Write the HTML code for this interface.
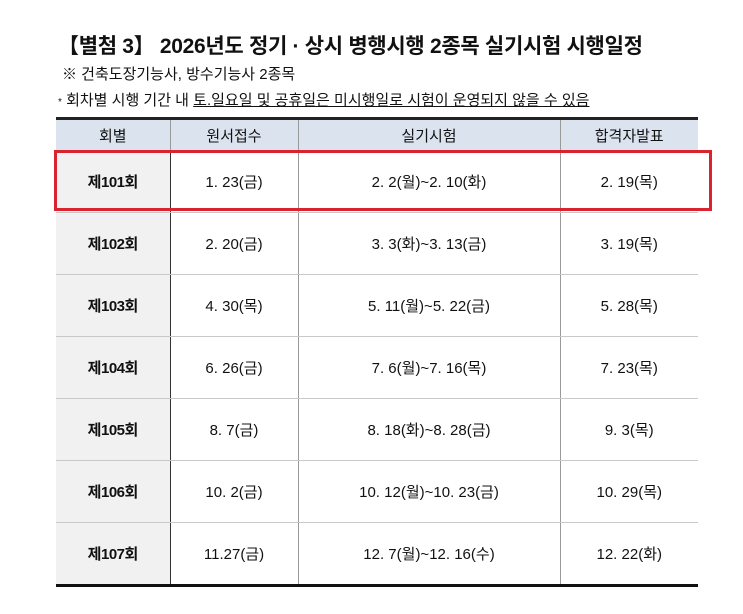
<!DOCTYPE html>
<html><head><meta charset="utf-8"><style>
body{margin:0;width:743px;height:614px;background:#fff;font-family:"Liberation Sans","Noto Sans CJK KR",sans-serif;color:#111;position:relative;overflow:hidden}
.t{position:absolute;white-space:nowrap}
table{position:absolute;left:56px;top:117px;width:642px;border-collapse:collapse;table-layout:fixed}
td,th{text-align:center;font-size:15px;font-weight:normal;border-bottom:1px solid #c8c8c8;border-left:1px solid #9a9a9a;padding:0}
th{background:#dbe3ef;height:30px;font-size:15px;border-bottom:1px solid #999}
td{height:61px}
tr td:first-child,tr th:first-child{border-left:none}
td:first-child{background:#f1f1f1;border-right:1px solid #333;font-weight:bold;letter-spacing:-0.5px}
table{border-top:3px solid #222;border-bottom:3px solid #111}
.red{position:absolute;left:54px;top:150px;width:652px;height:55px;border:3px solid #d9232e}
</style></head><body>
<div class="t" style="left:58px;top:30px;font-size:21px;font-weight:bold;letter-spacing:-0.3px">【별첨 3】 2026년도 정기 · 상시 병행시행 2종목 실기시험 시행일정</div>
<div class="t" style="left:62px;top:63px;font-size:15px">※ 건축도장기능사, 방수기능사 2종목</div>
<div class="t" style="left:58px;top:89px;font-size:15px"><span style="font-size:10px">*</span> 회차별 시행 기간 내 <span style="text-decoration:underline">토.일요일 및 공휴일은 미시행일로 시험이 운영되지 않을 수 있음</span></div>
<table>
<colgroup><col style="width:114px"><col style="width:128px"><col style="width:262px"><col style="width:138px"></colgroup>
<tr><th>회별</th><th>원서접수</th><th>실기시험</th><th>합격자발표</th></tr>
<tr><td>제101회</td><td>1. 23(금)</td><td>2. 2(월)~2. 10(화)</td><td>2. 19(목)</td></tr>
<tr><td>제102회</td><td>2. 20(금)</td><td>3. 3(화)~3. 13(금)</td><td>3. 19(목)</td></tr>
<tr><td>제103회</td><td>4. 30(목)</td><td>5. 11(월)~5. 22(금)</td><td>5. 28(목)</td></tr>
<tr><td>제104회</td><td>6. 26(금)</td><td>7. 6(월)~7. 16(목)</td><td>7. 23(목)</td></tr>
<tr><td>제105회</td><td>8. 7(금)</td><td>8. 18(화)~8. 28(금)</td><td>9. 3(목)</td></tr>
<tr><td>제106회</td><td>10. 2(금)</td><td>10. 12(월)~10. 23(금)</td><td>10. 29(목)</td></tr>
<tr><td style="border-bottom:none">제107회</td><td style="border-bottom:none">11.27(금)</td><td style="border-bottom:none">12. 7(월)~12. 16(수)</td><td style="border-bottom:none">12. 22(화)</td></tr>
</table>
<div class="red"></div>
</body></html>
